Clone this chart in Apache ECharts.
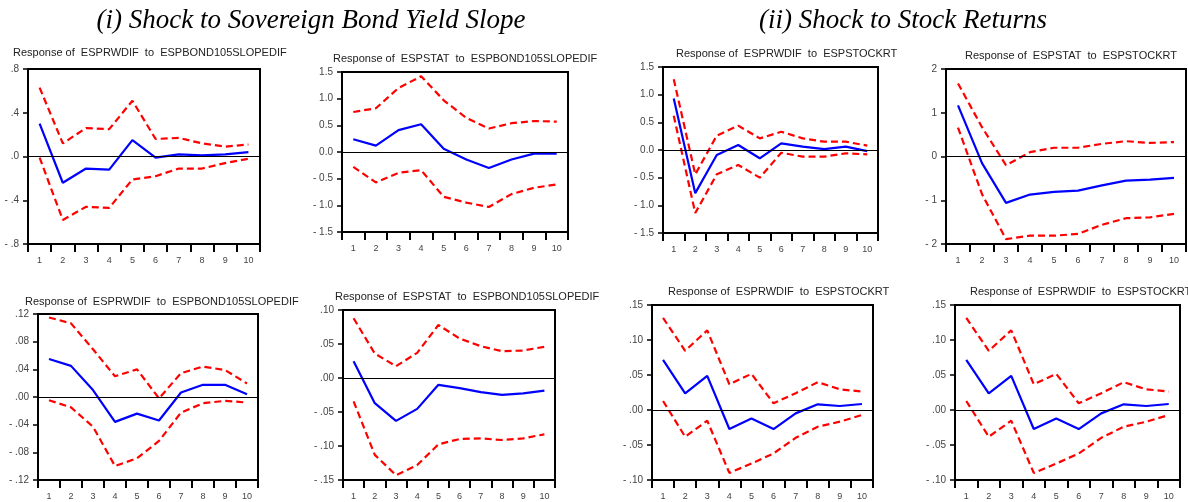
<!DOCTYPE html>
<html><head><meta charset="utf-8">
<script src="https://cdn.jsdelivr.net/npm/echarts@6/dist/echarts.min.js"></script>
<style>html,body{margin:0;padding:0;background:#fff}#c{width:1188px;height:502px}</style>
</head><body><div id="c"></div>
<script>
// ---- data ----
const periods = ['1','2','3','4','5','6','7','8','9','10'];
const headerLeft = '(i) Shock to Sovereign Bond Yield Slope';
const headerRight = '(ii) Shock to Stock Returns';

const title1 = 'Response of  ESPRWDIF  to  ESPBOND105SLOPEDIF';
const title2 = 'Response of  ESPSTAT  to  ESPBOND105SLOPEDIF';
const title3 = 'Response of  ESPRWDIF  to  ESPSTOCKRT';
const title4 = 'Response of  ESPSTAT  to  ESPSTOCKRT';
const title5 = 'Response of  ESPRWDIF  to  ESPBOND105SLOPEDIF';
const title6 = 'Response of  ESPSTAT  to  ESPBOND105SLOPEDIF';
const title7 = 'Response of  ESPRWDIF  to  ESPSTOCKRT';
const title8 = 'Response of  ESPRWDIF  to  ESPSTOCKRT';

const p1Resp  = [0.30, -0.24, -0.11, -0.12, 0.15, -0.01, 0.02, 0.01, 0.02, 0.04];
const p1Upper = [0.63, 0.12, 0.26, 0.25, 0.51, 0.16, 0.17, 0.12, 0.09, 0.11];
const p1Lower = [-0.01, -0.58, -0.46, -0.47, -0.21, -0.18, -0.11, -0.11, -0.06, -0.02];
const p1Ticks = ['- .8', '- .4', '.0', '.4', '.8'];

const p2Resp  = [0.24, 0.12, 0.41, 0.52, 0.06, -0.14, -0.30, -0.14, -0.03, -0.03];
const p2Upper = [0.75, 0.82, 1.20, 1.42, 0.97, 0.64, 0.44, 0.54, 0.58, 0.57];
const p2Lower = [-0.28, -0.57, -0.39, -0.34, -0.84, -0.95, -1.03, -0.79, -0.67, -0.61];
const p2Ticks = ['- 1.5', '- 1.0', '- 0.5', '0.0', '0.5', '1.0', '1.5'];

const p3Resp  = [0.93, -0.78, -0.09, 0.09, -0.15, 0.12, 0.06, 0.015, 0.06, -0.02];
const p3Upper = [1.28, -0.44, 0.26, 0.44, 0.21, 0.33, 0.21, 0.15, 0.15, 0.08];
const p3Lower = [0.62, -1.14, -0.44, -0.27, -0.50, -0.05, -0.12, -0.12, -0.06, -0.08];
const p3Ticks = ['- 1.5', '- 1.0', '- 0.5', '0.0', '0.5', '1.0', '1.5'];

const p4Resp  = [1.17, -0.15, -1.06, -0.87, -0.81, -0.78, -0.66, -0.55, -0.53, -0.49];
const p4Upper = [1.67, 0.67, -0.20, 0.10, 0.20, 0.20, 0.29, 0.35, 0.31, 0.33];
const p4Lower = [0.66, -0.86, -1.89, -1.81, -1.81, -1.77, -1.56, -1.41, -1.39, -1.31];
const p4Ticks = ['- 2', '- 1', '0', '1', '2'];

const p5Resp  = [0.055, 0.045, 0.010, -0.036, -0.024, -0.034, 0.0065, 0.0176, 0.0176, 0.004];
const p5Upper = [0.115, 0.1065, 0.069, 0.030, 0.040, -0.002, 0.0345, 0.044, 0.039, 0.0196];
const p5Lower = [-0.0046, -0.015, -0.043, -0.0998, -0.0886, -0.0635, -0.0225, -0.009, -0.0056, -0.008];
const p5Ticks = ['- .12', '- .08', '- .04', '.00', '.04', '.08', '.12'];

const p6Resp  = [0.0247, -0.037, -0.063, -0.0454, -0.010, -0.0148, -0.0207, -0.0247, -0.0227, -0.0187];
const p6Upper = [0.0878, 0.036, 0.0173, 0.037, 0.078, 0.058, 0.0468, 0.0394, 0.0404, 0.0459];
const p6Lower = [-0.0345, -0.113, -0.143, -0.128, -0.0976, -0.0897, -0.0888, -0.0912, -0.0888, -0.0828];
const p6Ticks = ['- .15', '- .10', '- .05', '.00', '.05', '.10'];

const p7Resp  = [0.0717, 0.0239, 0.0488, -0.0272, -0.012, -0.0272, -0.0048, 0.0081, 0.0057, 0.0086];
const p7Upper = [0.1315, 0.0846, 0.1138, 0.0368, 0.0516, 0.0096, 0.0239, 0.0397, 0.0296, 0.0263];
const p7Lower = [0.0129, -0.0382, -0.0153, -0.0899, -0.0765, -0.0621, -0.0397, -0.0239, -0.0167, -0.0072];
const p7Ticks = ['- .10', '- .05', '.00', '.05', '.10', '.15'];

const p8Resp  = p7Resp.slice();
const p8Upper = p7Upper.slice();
const p8Lower = p7Lower.slice();
const p8Ticks = p7Ticks.slice();

// axis ranges (min, max, interval)
const p1Range = [-0.8, 0.8, 0.4];
const p2Range = [-1.5, 1.5, 0.5];
const p3Range = [-1.5, 1.5, 0.5];
const p4Range = [-2, 2, 1];
const p5Range = [-0.12, 0.12, 0.04];
const p6Range = [-0.15, 0.10, 0.05];
const p7Range = [-0.10, 0.15, 0.05];
const p8Range = [-0.10, 0.15, 0.05];

// ---- layout (positions kept apart from data) ----
const layouts = [
  {grid:{left:28, top:69, width:232, height:175}, title:{left:8, top:42}},
  {grid:{left:342, top:72, width:226, height:160}, title:{left:328, top:48}},
  {grid:{left:663, top:67, width:215, height:166}, title:{left:671, top:43}},
  {grid:{left:946, top:69, width:240, height:175}, title:{left:960, top:45}},
  {grid:{left:38, top:314, width:220, height:166}, title:{left:20, top:291}},
  {grid:{left:343, top:310, width:212, height:170}, title:{left:330, top:286}},
  {grid:{left:652, top:305, width:221, height:175}, title:{left:663, top:281}},
  {grid:{left:955, top:305, width:225, height:175}, title:{left:965, top:281}}
];

const panels = [
  {title:title1, resp:p1Resp, up:p1Upper, lo:p1Lower, ticks:p1Ticks, range:p1Range},
  {title:title2, resp:p2Resp, up:p2Upper, lo:p2Lower, ticks:p2Ticks, range:p2Range},
  {title:title3, resp:p3Resp, up:p3Upper, lo:p3Lower, ticks:p3Ticks, range:p3Range},
  {title:title4, resp:p4Resp, up:p4Upper, lo:p4Lower, ticks:p4Ticks, range:p4Range},
  {title:title5, resp:p5Resp, up:p5Upper, lo:p5Lower, ticks:p5Ticks, range:p5Range},
  {title:title6, resp:p6Resp, up:p6Upper, lo:p6Lower, ticks:p6Ticks, range:p6Range},
  {title:title7, resp:p7Resp, up:p7Upper, lo:p7Lower, ticks:p7Ticks, range:p7Range},
  {title:title8, resp:p8Resp, up:p8Upper, lo:p8Lower, ticks:p8Ticks, range:p8Range}
];

const grids = [], xAxes = [], yAxes = [], series = [];
const headStyle = {fontFamily:'Liberation Serif', fontStyle:'italic', fontWeight:'normal', fontSize:27, color:'#000'};
const titles = [
  {text:headerLeft, left:306, top:2, textAlign:'center', textStyle:headStyle},
  {text:headerRight, left:898, top:2, textAlign:'center', textStyle:headStyle}
];

panels.forEach((p, i) => {
  const L = layouts[i];
  grids.push(Object.assign({show:true, borderColor:'#000', borderWidth:2, backgroundColor:'#fff'}, L.grid));
  titles.push({text:p.title, left:L.title.left, top:L.title.top,
    textStyle:{fontFamily:'Liberation Sans', fontWeight:'normal', fontSize:11, color:'#222'}});
  const [mn, mx, iv] = p.range;
  xAxes.push({type:'category', gridIndex:i, data:periods, boundaryGap:true, position:'bottom',
    axisLine:{show:true, onZero:false, lineStyle:{color:'#000', width:2}},
    axisTick:{show:true, inside:false, length:8, lineStyle:{color:'#000', width:2}},
    axisLabel:{show:true, fontSize:9, color:'#444', margin:12, fontFamily:'Liberation Sans'},
    splitLine:{show:false}});
  yAxes.push({type:'value', gridIndex:i, min:mn, max:mx, interval:iv,
    axisLine:{show:true, onZero:false, lineStyle:{color:'#000', width:2}},
    axisTick:{show:true, inside:false, length:5, lineStyle:{color:'#000', width:1.5}},
    axisLabel:{show:true, fontSize:10, color:'#444', margin:9, fontFamily:'Liberation Sans',
      formatter: v => p.ticks[Math.round((v - mn) / iv)] ?? ''},
    splitLine:{show:false}});
  series.push({type:'line', xAxisIndex:i, yAxisIndex:i, data:p.up, symbol:'none', z:3,
    lineStyle:{color:'#ff0000', width:2.2, type:[7,4]}});
  series.push({type:'line', xAxisIndex:i, yAxisIndex:i, data:p.lo, symbol:'none', z:3,
    lineStyle:{color:'#ff0000', width:2.2, type:[7,4]}});
  series.push({type:'line', xAxisIndex:i, yAxisIndex:i, data:p.resp, symbol:'none', z:4,
    lineStyle:{color:'#0000ff', width:2.2, type:'solid'},
    markLine:{silent:true, symbol:'none', animation:false, label:{show:false},
      lineStyle:{color:'#000', width:1, type:'solid'}, data:[{yAxis:0}]}});
});

const chart = echarts.init(document.getElementById('c'), null, {renderer:'canvas'});
chart.setOption({animation:false, backgroundColor:'#fff', title:titles, grid:grids, xAxis:xAxes, yAxis:yAxes, series:series});
</script></body></html>
